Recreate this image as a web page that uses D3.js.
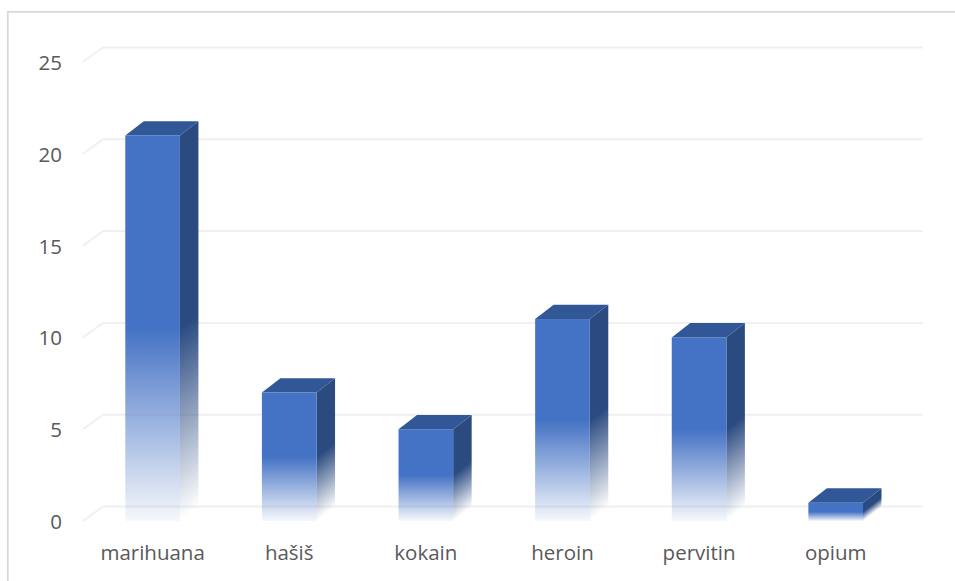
<!DOCTYPE html>
<html><head><meta charset="utf-8">
<script src="https://cdn.jsdelivr.net/npm/d3@7/dist/d3.min.js"></script>
<style>html,body{margin:0;padding:0;background:#fff;overflow:hidden}svg{display:block}
text{font-family:"Open Sans","Noto Sans",sans-serif;fill:#595959}</style></head>
<body><svg id="c" width="955" height="581"></svg>
<script>
const categories = ["marihuana","hašiš","kokain","heroin","pervitin","opium"];
const values = [21,7,5,11,10,1];
const tickValues = [0,5,10,15,20,25];

const svg = d3.select("#c");
const depthX = 18.5, depthY = 14.3;
const gridX0 = 83, gridX1 = 923, gridDX = 20, gridDY = 14.5;
const x = d3.scaleBand().domain(categories).range([84.3,904]).paddingInner(0.6).paddingOuter(0.3);
const y = d3.scaleLinear().domain([0,25]).range([521,62]);

svg.append("path").attr("d","M7.8,581V11.8H955").attr("fill","none").attr("stroke","#d9d9d9").attr("stroke-width",1.8);

// gradients
const defs = svg.append("defs");
function grad(id,color,mid,end){
  const g = defs.append("linearGradient").attr("id",id).attr("x1",0).attr("y1",0).attr("x2",0).attr("y2",1);
  g.append("stop").attr("offset","0").attr("stop-color",color).attr("stop-opacity",1);
  g.append("stop").attr("offset",mid).attr("stop-color",color).attr("stop-opacity",1);
  g.append("stop").attr("offset","1").attr("stop-color",color).attr("stop-opacity",end);
}
grad("front","#4472c4","0.5",0.05);
grad("side","#2a4a80","0.5",0.0);

// gridlines
svg.append("g").selectAll("path").data(tickValues).join("path")
  .attr("d",d=>`M${gridX0},${y(d)}L${gridX0+gridDX},${y(d)-gridDY}H${gridX1}`)
  .attr("fill","none").attr("stroke","#f0f0f0").attr("stroke-width",2);

// axes (text only)
const ay = svg.append("g").attr("transform","translate(68,1)")
  .call(d3.axisLeft(y).tickValues(tickValues).tickSize(0).tickPadding(6));
ay.select(".domain").remove();
ay.selectAll("text").attr("font-size",20.5).style("font-family",'"Open Sans","Noto Sans",sans-serif').attr("fill","#595959");

const ax = svg.append("g").attr("transform","translate(0,544)")
  .call(d3.axisBottom(x).tickSize(0).tickPadding(0));
ax.select(".domain").remove();
ax.selectAll("text").attr("font-size",20.5).attr("dy","0.8em").style("font-family",'"Open Sans","Noto Sans",sans-serif').attr("fill","#595959");

// bars
const bars = svg.append("g").selectAll("g").data(categories.map((c,i)=>({c,v:values[i]}))).join("g");
const w = x.bandwidth();
bars.append("rect")
  .attr("width",depthX).attr("height",d=>y(0)-y(d.v)).attr("fill","url(#side)")
  .attr("transform",d=>`matrix(1,${-depthY/depthX},0,1,${x(d.c)+w},${y(d.v)})`);
bars.append("path").attr("fill","#315796")
  .attr("d",d=>{const a=x(d.c),t=y(d.v);return `M${a},${t}L${a+depthX},${t-depthY}H${a+w+depthX}L${a+w},${t}Z`;});
bars.append("rect")
  .attr("x",d=>x(d.c)).attr("y",d=>y(d.v)).attr("width",w).attr("height",d=>y(0)-y(d.v))
  .attr("fill","url(#front)");
</script></body></html>
